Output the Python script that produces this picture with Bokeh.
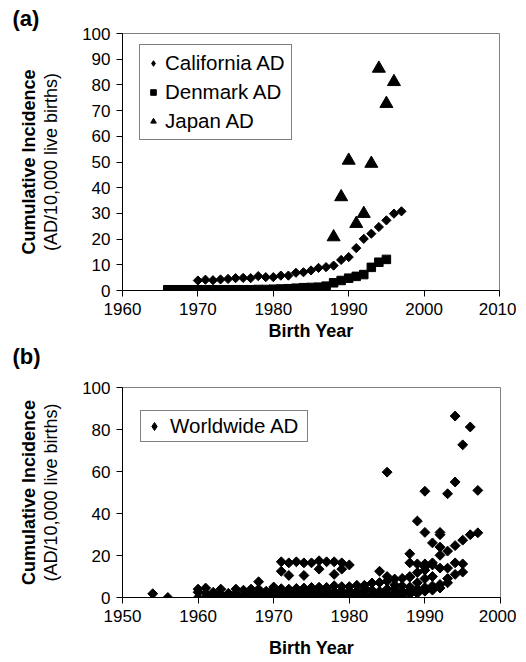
import numpy as np
from bokeh.plotting import figure
from bokeh.layouts import column
from bokeh.models import Range1d, Title, Legend, LegendItem
from bokeh.embed import file_html
from bokeh.resources import INLINE

FONT = "Liberation Sans"

# ---- Panel (a) data ----
ca_year = list(range(1970, 1998))
ca_value = [3.9, 4.2, 4.0, 4.3, 4.5, 4.8, 4.9, 4.8, 5.6, 5.2, 5.2, 5.8, 5.8, 6.9,
            7.1, 7.8, 8.8, 9.1, 9.7, 11.9, 13.0, 16.5, 20.1, 22.1, 24.7, 27.3, 29.9, 30.8]

dk_year = list(range(1966, 1996))
dk_value = [0.3, 0.3, 0.3, 0.3, 0.3, 0.3, 0.3, 0.3, 0.3, 0.3, 0.3, 0.3,
            0.4, 0.4, 0.5, 0.6, 0.7, 0.9, 1.1, 1.2, 1.3, 1.7, 3.0, 3.9,
            4.8, 5.5, 6.2, 9.0, 11.0, 12.1]

jp_year = [1988, 1989, 1990, 1991, 1992, 1993, 1994, 1995, 1996]
jp_value = [20.8, 36.4, 50.6, 26.0, 29.9, 49.4, 86.4, 72.7, 81.2]

# ---- Panel (b): other studies (besides the three above) ----
other_year = [1954, 1956,
              1960, 1960, 1960, 1961, 1961, 1961, 1962, 1962, 1962,
              1963, 1963, 1963, 1964, 1964, 1964, 1965, 1965, 1965,
              1966, 1966, 1967, 1967, 1967, 1968, 1968, 1968, 1968,
              1969, 1969, 1969, 1970, 1970, 1970, 1970,
              1971, 1971, 1971, 1971, 1971, 1972, 1972, 1972, 1972, 1972,
              1973, 1973, 1973, 1973, 1974, 1974, 1974, 1974, 1974,
              1975, 1975, 1975, 1975, 1976, 1976, 1976, 1976, 1976,
              1977, 1977, 1977, 1977, 1978, 1978, 1978, 1978, 1978,
              1979, 1979, 1979, 1979, 1979, 1980, 1980, 1980, 1980,
              1981, 1981, 1981, 1982, 1982, 1982, 1982, 1983, 1983, 1983,
              1984, 1984, 1984, 1984, 1985, 1985, 1985, 1985, 1985,
              1986, 1986, 1986, 1986, 1987, 1987, 1987,
              1988, 1988, 1988, 1988, 1989, 1989, 1989,
              1990, 1990, 1990, 1990, 1990, 1991, 1991, 1991,
              1992, 1992, 1992, 1992, 1993, 1993, 1994, 1994, 1995, 1997]
other_value = [1.8, 0.0,
               0.0, 2.5, 4.0, 0.0, 2.0, 4.5, 0.0, 1.0, 2.5,
               0.0, 1.5, 4.0, 0.0, 1.0, 2.0, 0.0, 2.0, 4.0,
               1.0, 3.5, 1.0, 2.5, 4.0, 0.0, 2.0, 4.0, 7.5,
               0.0, 1.0, 3.0, 0.0, 1.0, 2.0, 5.0,
               0.0, 1.5, 3.0, 12.5, 17.0, 0.0, 1.0, 3.0, 10.5, 16.5,
               0.0, 1.5, 2.5, 17.0, 0.0, 1.0, 3.0, 10.5, 16.5,
               0.0, 2.0, 3.5, 16.5, 0.0, 1.0, 3.0, 13.5, 17.5,
               0.0, 1.5, 3.5, 17.0, 0.0, 1.0, 3.0, 11.0, 17.0,
               0.0, 1.5, 3.0, 13.5, 16.5, 0.0, 1.0, 3.0, 15.5,
               0.0, 1.5, 3.0, 0.0, 1.0, 3.0, 4.5, 0.0, 1.5, 3.5,
               0.0, 2.0, 3.0, 12.5, 0.0, 2.0, 4.0, 10.0, 59.7,
               0.0, 2.0, 4.0, 6.0, 0.0, 3.0, 5.5,
               1.5, 5.0, 10.0, 16.5, 2.0, 7.0, 16.0,
               3.0, 9.0, 14.5, 16.0, 31.0, 3.5, 10.0, 15.5,
               4.5, 14.0, 24.0, 31.0, 7.0, 14.0, 16.5, 55.0, 16.0, 51.0]

ww_year = ca_year + dk_year + jp_year + other_year
ww_value = ca_value + dk_value + jp_value + other_value

x_ticks_a = [1960, 1970, 1980, 1990, 2000, 2010]
y_ticks_a = [0, 10, 20, 30, 40, 50, 60, 70, 80, 90, 100]
x_ticks_b = [1950, 1960, 1970, 1980, 1990, 2000]
y_ticks_b = [0, 20, 40, 60, 80, 100]


def style(p, xt, yt):
    p.xgrid.visible = False
    p.ygrid.visible = False
    p.outline_line_color = "#808080"
    p.outline_line_width = 1
    p.background_fill_color = "white"
    p.border_fill_color = "white"
    for ax in (p.xaxis[0], p.yaxis[0]):
        ax.axis_line_color = "black"
        ax.major_tick_line_color = "black"
        ax.minor_tick_line_color = None
        ax.major_tick_in = 0
        ax.major_tick_out = 6
        ax.major_label_text_font = FONT
        ax.major_label_text_font_size = "17px"
        ax.major_label_text_color = "black"
        ax.major_label_standoff = 6
        ax.axis_label_text_font = FONT
        ax.axis_label_text_font_size = "18px"
        ax.axis_label_text_color = "black"
    p.xaxis.ticker = xt
    p.yaxis.ticker = yt
    p.xaxis.axis_label = "Birth Year"
    p.xaxis.axis_label_text_font_style = "bold"
    p.yaxis.axis_label = "(AD/10,000 live births)"
    p.yaxis.axis_label_text_font_style = "normal"
    p.yaxis.axis_label_standoff = 18
    p.add_layout(Title(text="Cumulative Incidence", align="center", text_font=FONT,
                       text_font_size="18px", text_font_style="bold", standoff=0,
                       text_color="black"), "left")


def legend_style(lg):
    lg.border_line_color = "black"
    lg.border_line_width = 1
    lg.background_fill_alpha = 1
    lg.label_text_font = FONT
    lg.label_text_font_size = "20.5px"
    lg.label_text_color = "black"
    lg.glyph_width = 14
    lg.glyph_height = 24
    lg.label_height = 24
    lg.label_standoff = 5
    lg.spacing = 5
    lg.padding = 6
    lg.margin = 0


def tag(text, standoff, valign):
    return Title(text=text, align="left", offset=-110, text_font=FONT, text_font_size="22px",
                 text_font_style="bold", standoff=standoff, vertical_align=valign,
                 text_color="black")


nan_x = [float("nan")]

p1 = figure(frame_width=377, frame_height=257, x_range=Range1d(1960, 2010), y_range=Range1d(0, 100),
            min_border_left=122, min_border_right=17, min_border_top=33, min_border_bottom=0,
            output_backend="svg", toolbar_location=None, tools="")
style(p1, x_ticks_a, y_ticks_a)
p1.xaxis.axis_label_standoff = 3
p1.add_layout(tag("(a)", 6, "bottom"), "above")
p1.add_layout(tag("(b)", 0, "top"), "below")

p1.scatter(ca_year, ca_value, marker="square", angle=np.pi / 4, size=6.5,
           fill_color="black", line_color="black")
r_dk = p1.scatter(dk_year, dk_value, marker="square", size=8.5,
                  fill_color="black", line_color="black")
r_jp = p1.scatter(jp_year, jp_value, marker="triangle", size=13,
                  fill_color="black", line_color="black")
# legend-only glyph (diamond drawn upright in the legend)
r_ca_key = p1.scatter(nan_x, nan_x, marker="diamond", size=13,
                      fill_color="black", line_color="black")
lg1 = Legend(items=[LegendItem(label="California AD", renderers=[r_ca_key]),
                    LegendItem(label="Denmark AD", renderers=[r_dk]),
                    LegendItem(label="Japan AD", renderers=[r_jp])],
             location=(17, 150))
legend_style(lg1)
p1.add_layout(lg1)

p2 = figure(frame_width=378, frame_height=210, x_range=Range1d(1950, 2000), y_range=Range1d(0, 100),
            min_border_left=122, min_border_right=16, min_border_top=17, min_border_bottom=58,
            output_backend="svg", toolbar_location=None, tools="")
style(p2, x_ticks_b, y_ticks_b)
p2.xaxis.axis_label_standoff = 13
p2.scatter(ww_year, ww_value, marker="square", angle=np.pi / 4, size=7,
           fill_color="black", line_color="black")
r_ww_key = p2.scatter(nan_x, nan_x, marker="diamond", size=13,
                      fill_color="black", line_color="black")
lg2 = Legend(items=[LegendItem(label="Worldwide AD", renderers=[r_ww_key])], location=(18, 155))
legend_style(lg2)
lg2.padding = 3
lg2.glyph_width = 20
lg2.label_standoff = 6
lg2.label_width = 134
p2.add_layout(lg2)

layout = column(p1, p2, spacing=0)
open("out.html", "w").write(file_html(layout, INLINE))
